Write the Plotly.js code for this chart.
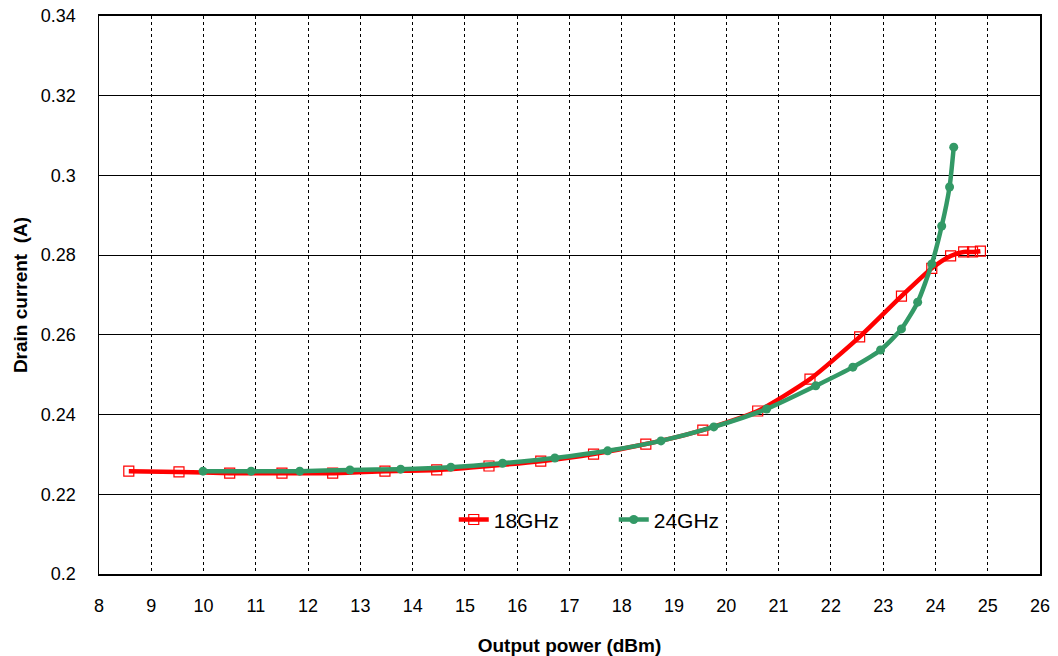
<!DOCTYPE html>
<html>
<head>
<meta charset="utf-8">
<script src="https://cdn.plot.ly/plotly-3.0.1.min.js"></script>
<style>html,body{margin:0;padding:0;background:#fff}#chart{width:1058px;height:656px}</style>
</head>
<body>
<div id="chart"></div>
<script>
const power18 = [8.57, 9.53, 10.5, 11.5, 12.47, 13.47, 14.46, 15.46, 16.45, 17.46, 18.46, 19.55, 20.6, 21.6, 22.55, 23.35, 23.93, 24.29, 24.54, 24.71, 24.86];
const current18 = [0.2258, 0.2256, 0.2253, 0.2253, 0.2253, 0.2258, 0.2261, 0.2271, 0.2283, 0.2301, 0.2326, 0.2361, 0.2409, 0.2489, 0.2595, 0.2697, 0.2767, 0.2798, 0.2808, 0.2808, 0.2810];
const power24 = [9.99, 10.91, 11.84, 12.8, 13.77, 14.73, 15.72, 16.72, 17.73, 18.75, 19.76, 20.77, 21.71, 22.42, 22.95, 23.35, 23.66, 23.93, 24.12, 24.27, 24.35];
const current24 = [0.2258, 0.2258, 0.2258, 0.2261, 0.2263, 0.2268, 0.2278, 0.2291, 0.2309, 0.2334, 0.2369, 0.2414, 0.2472, 0.2519, 0.2562, 0.2615, 0.2682, 0.2778, 0.2873, 0.2971, 0.3071];
const seriesNames = ['18GHz', '24GHz'];

const font = {family: 'Liberation Sans, Arial, sans-serif', color: '#000', size: 17};

const traces = [
  {x: power18, y: current18, name: seriesNames[0], mode: 'lines+markers', type: 'scatter',
   line: {color: '#ff0000', width: 4.5, shape: 'spline', smoothing: 0.6},
   marker: {symbol: 'square-open', size: 10, color: '#ff0000', line: {width: 1.2, color: '#ff0000'}}},
  {x: power24, y: current24, name: seriesNames[1], mode: 'lines+markers', type: 'scatter',
   line: {color: '#339966', width: 4.5, shape: 'spline', smoothing: 0.6},
   marker: {symbol: 'circle', size: 9, color: '#339966'}}
];

const layout = {
  width: 1058, height: 656,
  margin: {l: 99, r: 18, t: 16, b: 82},
  paper_bgcolor: '#fff', plot_bgcolor: '#fff',
  font: font,
  showlegend: true,
  legend: {orientation: 'h', x: 0.377, y: 0.097, xanchor: 'left', yanchor: 'middle',
           bgcolor: 'rgba(0,0,0,0)', font: {family: font.family, size: 21, color: '#000'},
           entrywidth: 115, entrywidthmode: 'pixels'},
  xaxis: {range: [8, 26], dtick: 1, tick0: 8, showgrid: true, gridcolor: '#000', griddash: '3px,3px', gridwidth: 1,
          showline: true, linecolor: '#000', linewidth: 2, mirror: true, zeroline: false,
          ticks: '', ticklabelstandoff: 14, tickfont: {size: 18},
          title: {text: '<b>Output power (dBm)</b>', font: {size: 19}, standoff: 24}},
  yaxis: {range: [0.2, 0.34], dtick: 0.02, tick0: 0.2, showgrid: true, gridcolor: '#000', gridwidth: 1,
          showline: true, linecolor: '#000', linewidth: 1.5, mirror: true, zeroline: false,
          ticks: '', ticklabelstandoff: 18, tickfont: {size: 18},
          title: {text: '<b>Drain current  (A)</b>', font: {size: 19}, standoff: 8}}
};

Plotly.newPlot('chart', traces, layout, {displayModeBar: false, staticPlot: true});
</script>
</body>
</html>
